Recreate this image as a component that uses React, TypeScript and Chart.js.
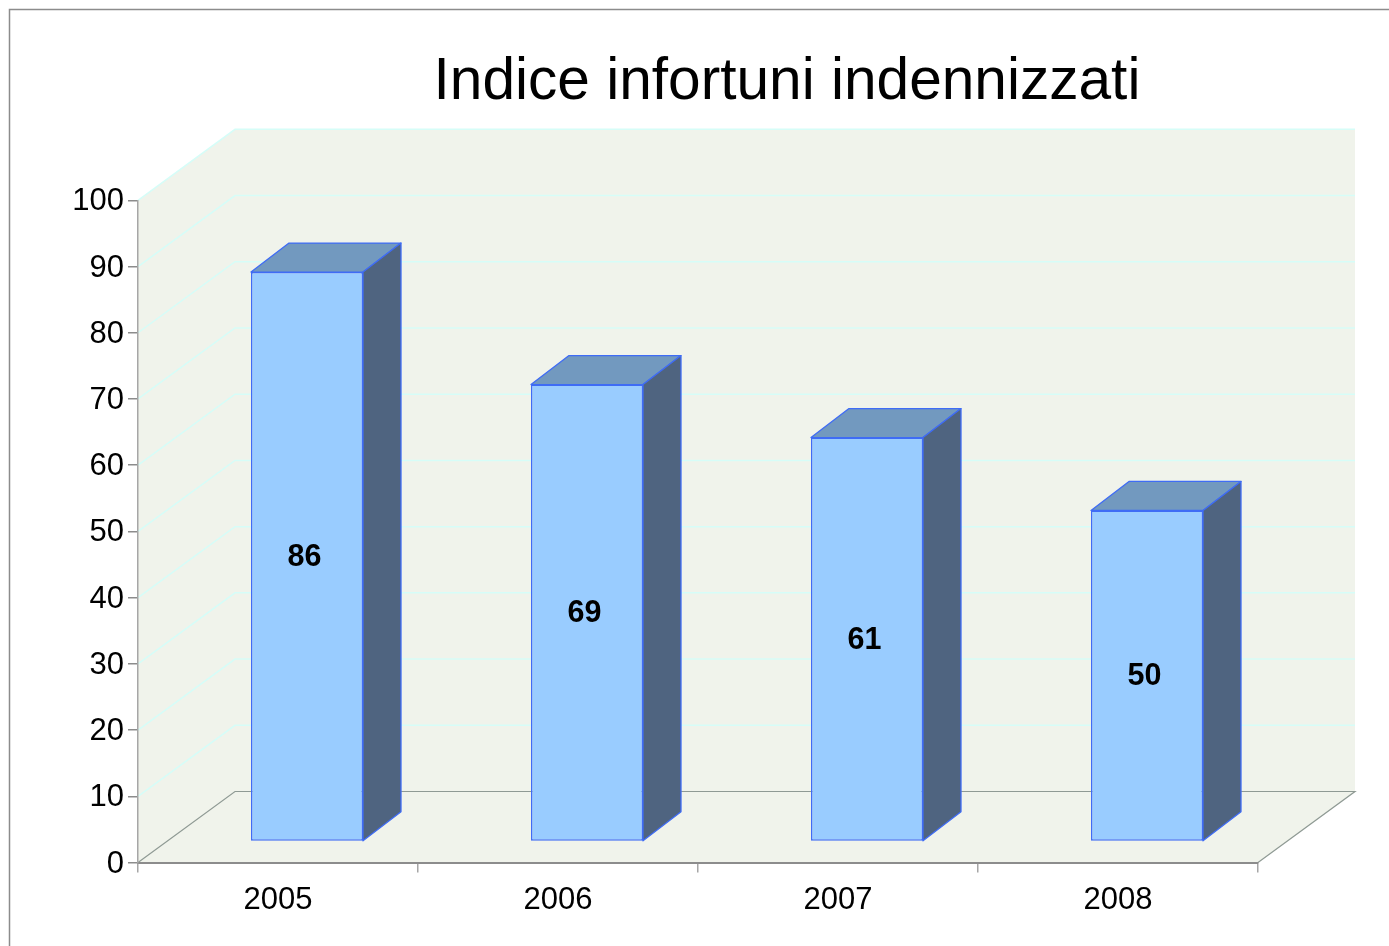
import React, { useEffect, useRef } from "react";
import { Chart, registerables } from "chart.js";

Chart.register(...registerables);

const years = ["2005", "2006", "2007", "2008"];
const indexValues = [86, 69, 61, 50];
const yTicks = [0, 10, 20, 30, 40, 50, 60, 70, 80, 90, 100];
const titleText = "Indice infortuni indennizzati";

const FONT = "'Liberation Sans', Arial, sans-serif";
const WALL_DX = 97;
const WALL_DY = -71;
const BAR_SHIFT_X = 29;
const BAR_SHIFT_Y = -21;
const BAR_DX = 38;
const BAR_DY = -29;

function poly(ctx: CanvasRenderingContext2D, pts: number[][], fill?: string, stroke?: string, lw = 1) {
  ctx.beginPath();
  pts.forEach((p, i) => (i ? ctx.lineTo(p[0], p[1]) : ctx.moveTo(p[0], p[1])));
  ctx.closePath();
  if (fill) {
    ctx.fillStyle = fill;
    ctx.fill();
  }
  if (stroke) {
    ctx.strokeStyle = stroke;
    ctx.lineWidth = lw;
    ctx.lineJoin = "round";
    ctx.stroke();
  }
}

const box3d = {
  id: "box3d",
  afterLayout(chart: any) {
    if (chart.titleBlock) {
      chart.titleBlock.left += 158;
      chart.titleBlock.right += 158;
    }
  },
  beforeDraw(chart: any) {
    const { ctx, scales, chartArea: a } = chart;
    const y = scales.y;
    const top = y.getPixelForValue(100);
    const bot = y.getPixelForValue(0);
    // nudge the value labels down a little to sit on their ticks as in the reference
    y.getLabelItems().forEach((item: any) => {
      if (!item.nudged) {
        item.options.translation[1] += 1.5;
        item.nudged = true;
      }
    });
    ctx.save();
    // page frame
    ctx.strokeStyle = "#8c8c8c";
    ctx.lineWidth = 1.5;
    ctx.beginPath();
    ctx.moveTo(9.5, chart.height);
    ctx.lineTo(9.5, 9.5);
    ctx.lineTo(chart.width, 9.5);
    ctx.stroke();
    // side and back wall, floor
    const wall = "#f0f3eb";
    poly(ctx, [
      [a.left, bot],
      [a.left, top],
      [a.left + WALL_DX, top + WALL_DY],
      [a.right + WALL_DX, top + WALL_DY],
      [a.right + WALL_DX, bot + WALL_DY],
      [a.right, bot],
    ], wall);
    // gridlines
    ctx.strokeStyle = "#d6fdf8";
    ctx.lineWidth = 1.5;
    yTicks.slice(1).forEach((v) => {
      const p = y.getPixelForValue(v);
      ctx.beginPath();
      ctx.moveTo(a.left, p);
      ctx.lineTo(a.left + WALL_DX, p + WALL_DY);
      ctx.lineTo(a.right + WALL_DX, p + WALL_DY);
      ctx.stroke();
    });
    // floor edges
    ctx.strokeStyle = "#8f9a94";
    ctx.lineWidth = 1.2;
    ctx.beginPath();
    ctx.moveTo(a.left, bot);
    ctx.lineTo(a.left + WALL_DX, bot + WALL_DY);
    ctx.lineTo(a.right + WALL_DX, bot + WALL_DY);
    ctx.lineTo(a.right, bot);
    ctx.stroke();
    ctx.restore();
  },
  beforeDatasetDraw(chart: any, args: any) {
    const { ctx } = chart;
    ctx.save();
    ctx.translate(BAR_SHIFT_X, BAR_SHIFT_Y);
    args.meta.data.forEach((el: any) => {
      const l = el.x - el.width / 2;
      const r = el.x + el.width / 2;
      poly(ctx, [[l, el.y], [l + BAR_DX, el.y + BAR_DY], [r + BAR_DX, el.y + BAR_DY], [r, el.y]], "#7299bf", "#3f6cf5", 1.3);
      poly(ctx, [[r, el.y], [r + BAR_DX, el.y + BAR_DY], [r + BAR_DX, el.base + BAR_DY], [r, el.base]], "#4f6480", "#3f6cf5", 1.3);
    });
  },
  afterDatasetDraw(chart: any, args: any) {
    const { ctx } = chart;
    ctx.fillStyle = "#000000";
    ctx.font = `bold 30.5px ${FONT}`;
    ctx.textAlign = "center";
    ctx.textBaseline = "middle";
    args.meta.data.forEach((el: any, i: number) => {
      ctx.fillText(String(indexValues[i]), el.x - 2.5, (el.y + el.base) / 2 + 1);
    });
    ctx.restore();
  },
};

export default function App() {
  const ref = useRef<HTMLCanvasElement>(null);
  useEffect(() => {
    const chart = new Chart(ref.current as HTMLCanvasElement, {
      type: "bar",
      data: {
        labels: years,
        datasets: [
          {
            label: "Indice infortuni indennizzati",
            data: indexValues,
            backgroundColor: "#99ccff",
            borderColor: "#3f6cf5",
            borderWidth: 1.5,
            borderSkipped: false,
            categoryPercentage: 1,
            barPercentage: 0.4,
            clip: false,
          } as any,
        ],
      },
      options: {
        animation: false,
        responsive: false,
        layout: { padding: { left: 0, right: 131, top: 0, bottom: 0 } },
        plugins: {
          legend: { display: false },
          tooltip: { enabled: false },
          title: {
            display: true,
            text: titleText,
            color: "#000000",
            font: { family: FONT, size: 58.6, weight: "normal", lineHeight: 1.2 },
            padding: { top: 48, bottom: 82 },
          },
        },
        scales: {
          x: {
            afterFit: (s: any) => {
              s.height = 83.5;
            },
            border: { color: "#8c8c8c", width: 2 },
            grid: { drawOnChartArea: false, drawTicks: true, tickLength: 10, color: "#a6a6a6", lineWidth: 1.5 },
            ticks: { color: "#000000", font: { family: FONT, size: 31 }, padding: 9, maxRotation: 0 },
          },
          y: {
            min: 0,
            max: 100,
            afterFit: (s: any) => {
              s.width = 138;
            },
            border: { color: "#a6a6a6", width: 1.5 },
            grid: { drawOnChartArea: false, drawTicks: true, tickLength: 10, color: "#8c8c8c", lineWidth: 1.5 },
            ticks: { stepSize: 10, color: "#000000", font: { family: FONT, size: 31 }, padding: 4 },
          },
        },
      },
      plugins: [box3d],
    } as any);
    return () => chart.destroy();
  }, []);
  return (
    <canvas
      ref={ref}
      width={1389}
      height={946}
      style={{ position: "absolute", left: 0, top: 0, width: 1389, height: 946, display: "block" }}
    />
  );
}
